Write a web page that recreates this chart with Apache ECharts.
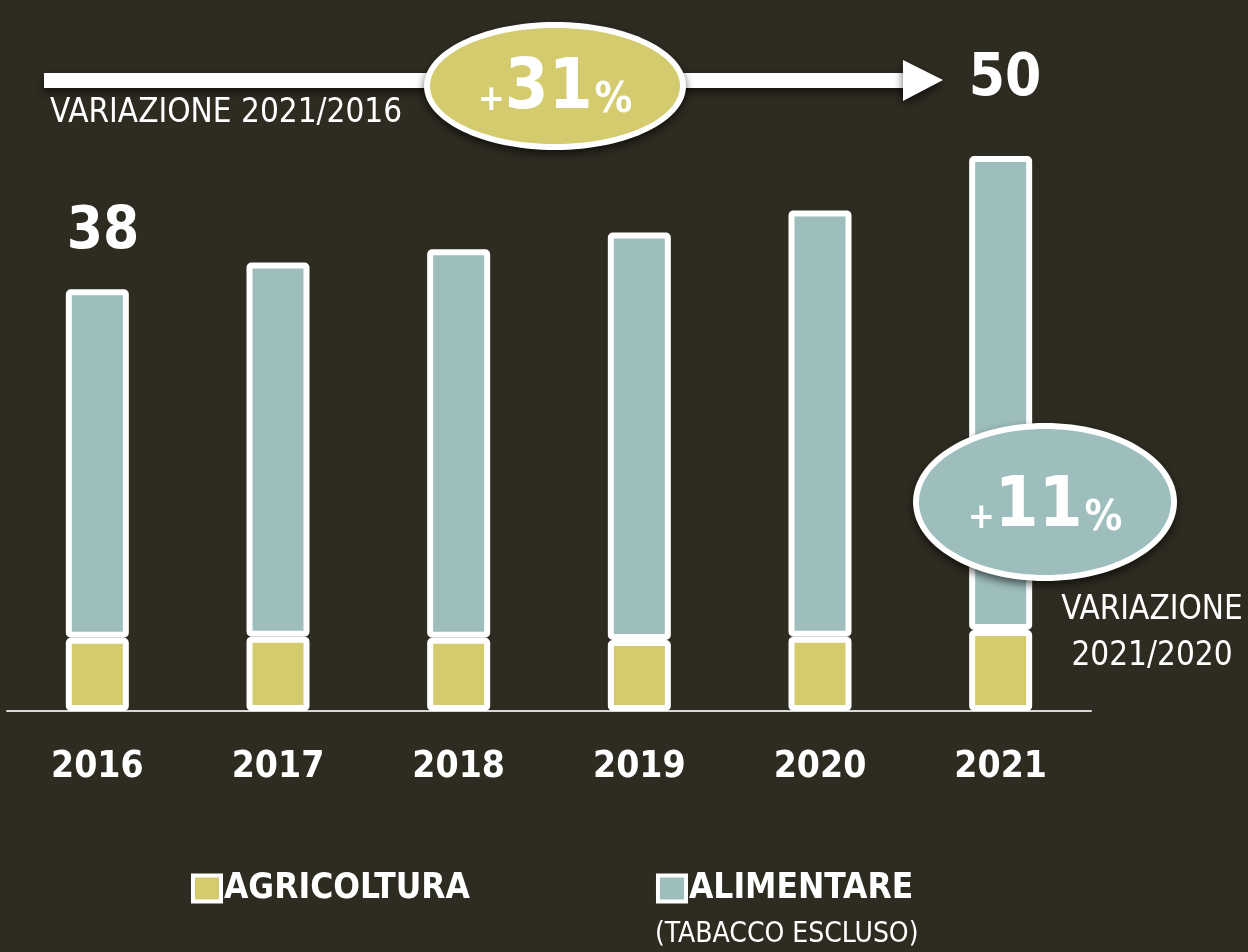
<!DOCTYPE html>
<html>
<head>
<meta charset="utf-8">
<style>
  html, body { margin: 0; padding: 0; background: #2e2b21; }
  #container { width: 1248px; height: 952px; }
</style>
<script src="https://cdn.jsdelivr.net/npm/echarts@6/dist/echarts.min.js"></script>
</head>
<body>
<div id="container"></div>
<script>
// dati (miliardi di euro)
var anni = ['2016', '2017', '2018', '2019', '2020', '2021'];
var agricoltura = [6.6, 6.7, 6.6, 6.4, 6.7, 7.3];
var alimentare = [31.4, 33.7, 35.0, 36.7, 38.4, 42.7];

var FONT = '"Liberation Sans Narrow", "DejaVu Sans Condensed", sans-serif';
var GIALLO = '#d3cb6e';
var AZZURRO = '#9dbebd';

var dom = document.getElementById('container');
var myChart = echarts.init(dom);

var barStyle = function (colore) {
    return {
        color: colore,
        borderColor: '#fff',
        borderWidth: 6,
        borderRadius: 2
    };
};

var percento = function (num) {
    return {
        text: '{a|+}{b|' + num + '}{c|%}', align: 'center', verticalAlign: 'middle',
        rich: {
            a: { fill: '#fff', fontFamily: FONT, fontWeight: 'bold', fontSize: 36, verticalAlign: 'bottom', padding: [0, 0, 6, 0] },
            b: { fill: '#fff', fontFamily: FONT, fontWeight: 'bold', fontSize: 70, verticalAlign: 'bottom' },
            c: { fill: '#fff', fontFamily: FONT, fontWeight: 'bold', fontSize: 42, verticalAlign: 'bottom', padding: [0, 0, 3, 2] }
        }
    };
};

var ombra = { shadowColor: 'rgba(0,0,0,0.6)', shadowBlur: 8, shadowOffsetY: 4 };

// ellisse con bordo bianco: sotto il bianco con ombra, sopra il colore
var ellisse = function (cx, cy, rx, ry, colore) {
    return [
        { type: 'ellipse', z: 101, shape: { cx: cx, cy: cy, rx: rx + 3, ry: ry + 3 },
          style: Object.assign({ fill: '#fff' }, ombra) },
        { type: 'ellipse', z: 102, shape: { cx: cx, cy: cy, rx: rx - 3, ry: ry - 3 },
          style: { fill: colore } }
    ];
};

var grafica = [
    // freccia 2021/2016
    { type: 'rect', z: 100, shape: { x: 44, y: 73, width: 866, height: 15 },
      style: Object.assign({ fill: '#fff' }, ombra) },
    { type: 'polygon', z: 100, shape: { points: [[903, 60], [943, 80], [903, 101]] },
      style: Object.assign({ fill: '#fff' }, ombra) }
].concat(ellisse(555, 86, 128, 61, GIALLO)).concat([
    { type: 'text', z: 103, x: 555, y: 90, style: percento('31') },
    { type: 'text', z: 100, x: 50, y: 113,
      style: { text: 'VARIAZIONE 2021/2016', fill: '#fff', fontFamily: FONT, fontSize: 33, verticalAlign: 'middle' } },
    { type: 'text', z: 100, x: 1005, y: 80,
      style: { text: '50', fill: '#fff', fontFamily: FONT, fontWeight: 'bold', fontSize: 58, align: 'center', verticalAlign: 'middle' } },
    { type: 'text', z: 100, x: 103, y: 233,
      style: { text: '38', fill: '#fff', fontFamily: FONT, fontWeight: 'bold', fontSize: 58, align: 'center', verticalAlign: 'middle' } }
]).concat(ellisse(1045, 502, 129, 76, AZZURRO)).concat([
    { type: 'text', z: 103, x: 1045, y: 508, style: percento('11') },
    { type: 'text', z: 100, x: 1152, y: 610,
      style: { text: 'VARIAZIONE', fill: '#fff', fontFamily: FONT, fontSize: 33, align: 'center', verticalAlign: 'middle' } },
    { type: 'text', z: 100, x: 1152, y: 656,
      style: { text: '2021/2020', fill: '#fff', fontFamily: FONT, fontSize: 33, align: 'center', verticalAlign: 'middle' } },
    { type: 'text', z: 100, x: 655, y: 935,
      style: { text: '(TABACCO ESCLUSO)', fill: '#fff', fontFamily: FONT, fontSize: 28, verticalAlign: 'middle' } }
]);

var option = {
    backgroundColor: '#2e2b21',
    animation: false,
    grid: { left: 7, width: 1084, top: 45, bottom: 241 },
    legend: {
        left: 186,
        top: 866,
        itemGap: 186,
        itemWidth: 28,
        itemHeight: 26,
        icon: 'rect',
        data: ['AGRICOLTURA', 'ALIMENTARE'],
        itemStyle: { borderColor: '#fff', borderWidth: 4 },
        textStyle: { color: '#fff', fontFamily: FONT, fontWeight: 'bold', fontSize: 35, padding: [0, 0, 0, -2] }
    },
    xAxis: {
        type: 'category',
        data: anni,
        axisLine: { lineStyle: { color: '#d8d8d8', width: 2 } },
        axisTick: { show: false },
        axisLabel: { color: '#fff', fontFamily: FONT, fontWeight: 'bold', fontSize: 37, margin: 38 }
    },
    yAxis: {
        type: 'value',
        min: 0,
        max: 60,
        show: false,
        splitLine: { show: false }
    },
    series: [
        {
            name: 'AGRICOLTURA',
            type: 'bar',
            stack: 'tot',
            barWidth: 63,
            data: agricoltura,
            itemStyle: barStyle(GIALLO)
        },
        {
            name: 'ALIMENTARE',
            type: 'bar',
            stack: 'tot',
            barWidth: 63,
            data: alimentare,
            itemStyle: barStyle(AZZURRO)
        }
    ],
    graphic: grafica
};

if (option && typeof option === 'object') {
    myChart.setOption(option, true);
}
</script>
</body>
</html>
